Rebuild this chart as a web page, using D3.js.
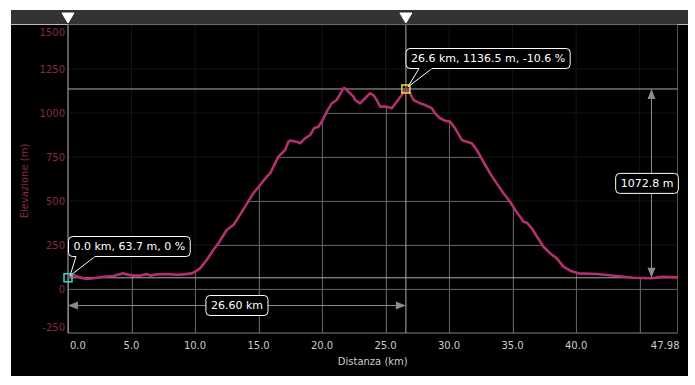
<!DOCTYPE html>
<html>
<head>
<script src="https://d3js.org/d3.v7.min.js"></script>
<style>
  body { margin: 0; background: #fff; }
  svg { display: block; font-family: "DejaVu Sans", sans-serif; }
</style>
</head>
<body>
<svg id="chart" width="695" height="385"></svg>
<script>
// profile: distance (km) and elevation (m)
const distKm = [0, 0.42, 0.94, 1.47, 1.99, 2.78, 3.57, 4.35, 4.62, 5.14, 5.67, 6.2, 6.46, 6.98, 7.77, 8.56, 9.08, 9.74, 10.0, 10.39, 10.92, 11.44, 11.84, 12.49, 13.02, 13.28, 13.94, 14.59, 15.12, 15.64, 15.91, 16.3, 16.56, 16.82, 17.09, 17.35, 17.48, 18.0, 18.27, 18.66, 19.06, 19.37, 19.71, 20.05, 20.37, 20.76, 21.15, 21.68, 21.81, 22.07, 22.47, 22.6, 22.99, 23.25, 23.78, 24.04, 24.3, 24.57, 25.09, 25.49, 25.88, 26.27, 26.6, 26.93, 27.19, 27.72, 28.11, 28.64, 28.9, 29.29, 29.69, 30.08, 30.47, 31.0, 31.39, 31.79, 32.18, 32.7, 33.23, 33.75, 34.28, 34.8, 35.2, 35.59, 35.85, 36.12, 36.51, 36.9, 37.43, 37.95, 38.48, 39.0, 39.53, 40.18, 41.63, 43.2, 44.5, 45.96, 46.8, 47.4, 47.98];
const elevM = [63.7, 80, 66, 57, 61, 70, 74, 89, 83, 76, 76, 85, 76, 83, 85, 81, 83, 89, 98, 117, 165, 222, 260, 335, 364, 392, 468, 544, 591, 638, 657, 714, 752, 771, 790, 837, 843, 837, 828, 856, 875, 913, 922, 960, 1008, 1055, 1074, 1140, 1140, 1121, 1093, 1074, 1055, 1074, 1112, 1102, 1074, 1036, 1036, 1027, 1064, 1102, 1136.5, 1112, 1074, 1055, 1045, 1027, 998, 970, 956, 951, 913, 847, 837, 828, 790, 723, 657, 600, 544, 496, 449, 411, 382, 377, 345, 300, 240, 203, 174, 127, 104, 89, 85, 74, 64, 61, 70, 68, 66];

const xTicks = [0, 5, 10, 15, 20, 25, 30, 35, 40, 45];
const xTickLabels = ["0.0", "5.0", "10.0", "15.0", "20.0", "25.0", "30.0", "35.0", "40.0", ""];
const yTicks = [-250, 0, 250, 500, 750, 1000, 1250, 1500];

// the two cursor points and their labels
const cursorA = { km: 0.0, m: 63.7, label: "0.0 km, 63.7 m, 0 %" };
const cursorB = { km: 26.6, m: 1136.5, label: "26.6 km, 1136.5 m, -10.6 %" };
const distLabel = "26.60 km";
const elevLabel = "1072.8 m";
const maxKm = 47.98;

const data = distKm.map((d, i) => ({ km: d, m: elevM[i] }));

const svg = d3.select("#chart");
const pLeft = 68, pRight = 677.5, pTop = 25, pBottom = 333;

const x = d3.scaleLinear().domain([0, maxKm]).range([pLeft, pRight]);
const y = d3.scaleLinear().domain([-250, 1500]).range([pBottom, pTop]);

// panel
svg.append("rect").attr("x", 11).attr("y", 10).attr("width", 677).attr("height", 366).attr("fill", "#000");
svg.append("rect").attr("x", 11).attr("y", 10).attr("width", 677).attr("height", 14).attr("fill", "#333");
svg.append("line").attr("x1", 11).attr("x2", 688).attr("y1", 24.5).attr("y2", 24.5).attr("stroke", "#bbb");

// faint grid everywhere
const faint = svg.append("g").attr("stroke", "#151515");
faint.selectAll("line.h").data(yTicks).enter().append("line")
  .attr("x1", pLeft).attr("x2", pRight).attr("y1", d => y(d)).attr("y2", d => y(d));
faint.selectAll("line.v").data(xTicks).enter().append("line")
  .attr("y1", pTop).attr("y2", pBottom).attr("x1", d => x(d)).attr("x2", d => x(d));

// brighter grid only below the profile
const area = d3.area().x(d => x(d.km)).y0(pBottom).y1(d => y(d.m));
svg.append("clipPath").attr("id", "under").append("path").attr("d", area(data));
const grid = svg.append("g").attr("clip-path", "url(#under)").attr("stroke", "#5e5e5e");
grid.selectAll("line.h").data(yTicks).enter().append("line")
  .attr("x1", pLeft).attr("x2", pRight).attr("y1", d => Math.round(y(d)) + 0.5).attr("y2", d => Math.round(y(d)) + 0.5);
grid.selectAll("line.v").data(xTicks.concat([maxKm])).enter().append("line")
  .attr("y1", pTop).attr("y2", pBottom).attr("x1", d => Math.round(x(d)) + 0.5).attr("x2", d => Math.round(x(d)) + 0.5);

// axes frame
svg.append("line").attr("x1", pLeft).attr("x2", pRight).attr("y1", pBottom).attr("y2", pBottom).attr("stroke", "#777");
svg.append("line").attr("x1", pRight).attr("x2", pRight).attr("y1", pTop).attr("y2", pBottom).attr("stroke", "#555");

// cursor cross lines
const cur = svg.append("g").attr("stroke", "#aaa");
[cursorA, cursorB].forEach(c => {
  cur.append("line").attr("x1", pLeft).attr("x2", pRight).attr("y1", y(c.m)).attr("y2", y(c.m));
  cur.append("line").attr("x1", x(c.km)).attr("x2", x(c.km)).attr("y1", pTop).attr("y2", pBottom);
});

// profile line
svg.append("path").datum(data)
  .attr("d", d3.line().x(d => x(d.km)).y(d => y(d.m)))
  .attr("fill", "none").attr("stroke", "#b3306f").attr("stroke-width", 2.6)
  .attr("stroke-linejoin", "round");

// y axis labels
svg.append("g").selectAll("text").data(yTicks).enter().append("text")
  .attr("x", 65).attr("y", d => Math.max(32, Math.min(327, y(d))))
  .attr("dy", "0.35em").attr("text-anchor", "end")
  .attr("font-size", 10).attr("fill", "#862a54").text(d => d);
svg.append("text").attr("transform", `translate(28,${(pTop + pBottom) / 2 + 2}) rotate(-90)`)
  .attr("text-anchor", "middle").attr("font-size", 10).attr("fill", "#862a54").text("Elevazione (m)");

// x axis labels
svg.append("g").selectAll("text").data(xTicks).enter().append("text")
  .attr("x", (d, i) => i === 0 ? x(d) + 2 : x(d)).attr("y", 349)
  .attr("text-anchor", (d, i) => i === 0 ? "start" : "middle")
  .attr("font-size", 10).attr("fill", "#ccc").text((d, i) => xTickLabels[i]);
svg.append("text").attr("x", pRight + 2).attr("y", 349).attr("text-anchor", "end")
  .attr("font-size", 10).attr("fill", "#ccc").text(maxKm.toFixed(2));
svg.append("text").attr("x", (pLeft + pRight) / 2).attr("y", 365).attr("text-anchor", "middle")
  .attr("font-size", 10).attr("fill", "#ccc").text("Distanza (km)");

// top bar markers
svg.append("g").selectAll("path").data([cursorA, cursorB]).enter().append("path")
  .attr("d", c => `M${x(c.km) - 6},13 L${x(c.km) + 6},13 L${x(c.km)},23 Z`)
  .attr("fill", "#fff").attr("stroke", "#fff").attr("stroke-linejoin", "round");

// measuring arrows
const arrowColor = "#8a8a8a";
const ay = 305.5;
svg.append("line").attr("x1", x(cursorA.km)).attr("x2", x(cursorB.km)).attr("y1", ay).attr("y2", ay).attr("stroke", arrowColor);
svg.append("path").attr("fill", arrowColor)
  .attr("d", `M${x(cursorA.km)},${ay} l10,-4 v8 Z M${x(cursorB.km)},${ay} l-10,-4 v8 Z`);
const ax = 651.5;
svg.append("line").attr("x1", ax).attr("x2", ax).attr("y1", y(cursorB.m)).attr("y2", y(cursorA.m)).attr("stroke", arrowColor);
svg.append("path").attr("fill", arrowColor)
  .attr("d", `M${ax},${y(cursorB.m)} l-4,10 h8 Z M${ax},${y(cursorA.m)} l-4,-10 h8 Z`);

function box(cx, cy, text) {
  const g = svg.append("g");
  const r = g.append("rect").attr("fill", "#000").attr("stroke", "#fff").attr("rx", 4);
  const t = g.append("text").attr("x", cx).attr("y", cy).attr("dy", "0.35em")
    .attr("text-anchor", "middle").attr("font-size", 11).attr("fill", "#fff").text(text);
  const w = t.node().getComputedTextLength() + 10;
  r.attr("x", cx - w / 2).attr("y", cy - 10).attr("width", w).attr("height", 20);
  return w;
}
box((x(cursorA.km) + x(cursorB.km)) / 2, ay, distLabel);
box(647, (y(cursorA.m) + y(cursorB.m)) / 2, elevLabel);

// callouts
function callout(c, bx, by, wedge, color) {
  const px = x(c.km), py = y(c.m);
  const g = svg.append("g");
  const r = g.append("rect").attr("fill", "#000").attr("stroke", "#fff").attr("rx", 4);
  const t = g.append("text").attr("x", bx + 5).attr("y", by + 10).attr("dy", "0.35em")
    .attr("font-size", 11).attr("fill", "#fff").text(c.label);
  const w = t.node().getComputedTextLength() + 10;
  r.attr("x", bx).attr("y", by).attr("width", w).attr("height", 20);
  g.append("path").attr("d", `M${wedge[0]},${by + 20} L${px + 2},${py - 2} L${wedge[1]},${by + 20}`)
    .attr("fill", "#000").attr("stroke", "#fff");
  g.append("line").attr("x1", wedge[0] + 0.5).attr("x2", wedge[1] - 0.5).attr("y1", by + 20).attr("y2", by + 20).attr("stroke", "#000").attr("stroke-width", 1.5);
  svg.append("rect").attr("x", px - 4).attr("y", py - 4).attr("width", 8).attr("height", 8)
    .attr("fill", "none").attr("stroke", color).attr("stroke-width", 1.5);
}
callout(cursorA, 68.5, 236.5, [76, 95], "#3cd6d6");
callout(cursorB, 406, 48.5, [419, 432], "#e3e33a");
</script>
</body>
</html>
